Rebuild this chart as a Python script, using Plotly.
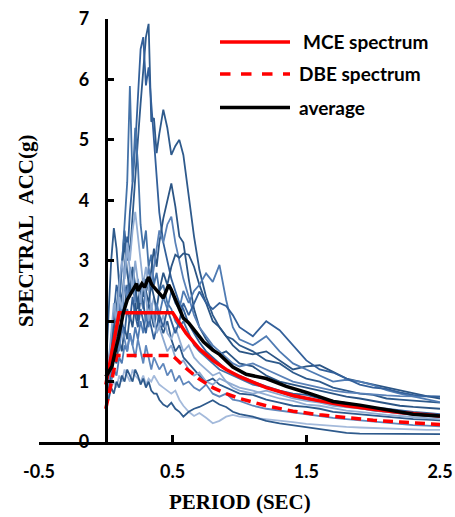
import plotly.graph_objects as go

# Period grid shared by the ground-motion records (sec)
periods = [0, 0.02, 0.04, 0.06, 0.08, 0.10, 0.12, 0.14, 0.16, 0.18, 0.20, 0.22, 0.24, 0.26, 0.28,
           0.30, 0.32, 0.34, 0.36, 0.38, 0.40, 0.43, 0.46, 0.49, 0.52, 0.55, 0.58, 0.62, 0.66, 0.70,
           0.75, 0.80, 0.85, 0.90, 0.95, 1.0, 1.1, 1.2, 1.3, 1.4, 1.5, 1.6, 1.7, 1.8, 1.9, 2.0,
           2.1, 2.2, 2.3, 2.4, 2.5]

rec01 = [0.9, 1.1, 1.5, 1.9, 2.2, 2.6, 2.3, 2.9, 3.4, 3.1, 3.8, 4.4, 5.0, 5.6, 6.2,
         6.7, 6.92, 5.3, 5.36, 4.78, 5.1, 5.5, 5.2, 4.75, 4.9, 5.0, 4.75, 4.1, 3.4, 2.85,
         2.4, 2.1, 1.9, 1.75, 1.7, 1.6, 1.5, 1.35, 1.3, 1.15, 1.05, 1.0, 0.9, 0.85, 0.8, 0.78,
         0.72, 0.7, 0.68, 0.66, 0.65]
rec02 = [1.0, 1.3, 1.7, 2.1, 2.6, 2.4, 3.0, 3.5, 3.0, 3.8, 4.3, 4.9, 5.7, 6.5, 6.7,
         5.9, 6.2, 5.6, 5.0, 4.3, 3.8, 3.3, 3.0, 2.7, 2.5, 2.3, 2.2, 1.95, 1.8, 1.65,
         1.5, 1.4, 1.3, 1.2, 1.15, 1.1, 1.0, 0.92, 0.85, 0.8, 0.78, 0.72, 0.68, 0.64, 0.6, 0.57,
         0.55, 0.52, 0.5, 0.48, 0.46]
rec03 = [0.8, 1.0, 1.3, 1.8, 1.5, 2.2, 2.8, 3.6, 4.3, 5.89, 4.3, 5.2, 4.6, 3.6, 3.2,
         3.5, 2.9, 3.1, 2.6, 2.8, 2.5, 2.6, 2.3, 2.2, 2.0, 1.9, 2.0, 1.8, 1.6, 1.5,
         1.4, 1.3, 1.2, 1.15, 1.1, 1.05, 0.95, 0.9, 0.82, 0.75, 0.7, 0.66, 0.62, 0.6, 0.56, 0.52,
         0.5, 0.47, 0.45, 0.43, 0.41]
rec04 = [1.1, 1.3, 1.6, 1.9, 2.1, 2.0, 2.4, 2.2, 2.6, 2.4, 2.8, 2.5, 2.3, 2.6, 2.4,
         2.7, 2.5, 2.9, 3.2, 2.9, 3.3, 3.7, 4.0, 4.28, 3.9, 3.4, 3.3, 2.7, 2.2, 1.9,
         1.7, 1.55, 1.45, 1.5, 1.4, 1.3, 1.25, 1.1, 1.0, 0.95, 0.9, 0.85, 0.8, 0.75, 0.72, 0.68,
         0.64, 0.6, 0.58, 0.56, 0.55]
rec05 = [0.9, 1.1, 1.4, 1.6, 1.9, 2.3, 2.1, 2.6, 2.4, 2.9, 2.6, 2.3, 2.7, 2.4, 2.2,
         2.6, 2.9, 2.6, 2.9, 3.2, 3.5, 3.3, 3.6, 3.73, 3.3, 3.0, 2.7, 2.4, 2.1, 1.9,
         1.75, 1.6, 1.5, 1.4, 1.3, 1.25, 1.3, 1.2, 1.1, 1.0, 0.95, 0.9, 0.85, 0.82, 0.8, 0.78,
         0.77, 0.76, 0.76, 0.75, 0.75]
rec06 = [1.2, 2.0, 3.0, 3.54, 3.2, 2.6, 2.9, 3.3, 2.8, 2.5, 2.9, 2.6, 2.2, 2.5, 2.3,
         2.0, 2.3, 2.1, 1.9, 2.2, 2.0, 1.8, 2.0, 1.7, 1.5, 1.6, 1.4, 1.3, 1.2, 1.1,
         1.0, 1.05, 0.95, 0.9, 0.85, 0.8, 0.78, 0.7, 0.65, 0.6, 0.58, 0.55, 0.5, 0.48, 0.45, 0.43,
         0.42, 0.4, 0.38, 0.37, 0.36]
rec07 = [0.8, 1.0, 1.2, 1.5, 1.9, 2.4, 2.2, 2.8, 3.3, 3.0, 3.5, 3.81, 3.4, 3.0, 2.6,
         2.9, 2.5, 2.2, 2.4, 2.1, 1.9, 2.1, 1.8, 1.7, 1.9, 1.7, 1.5, 1.6, 1.4, 1.3,
         1.2, 1.1, 1.15, 1.0, 0.95, 0.9, 0.85, 0.78, 0.72, 0.68, 0.62, 0.6, 0.56, 0.52, 0.5, 0.47,
         0.45, 0.43, 0.41, 0.4, 0.38]
rec08 = [0.7, 0.9, 1.1, 1.4, 1.3, 1.7, 1.5, 1.9, 1.7, 2.1, 1.9, 2.3, 2.0, 2.4, 2.7,
         2.5, 2.3, 2.6, 2.4, 2.2, 2.5, 2.8, 2.6, 2.9, 3.1, 3.05, 3.12, 3.1, 2.9, 2.6,
         2.3, 2.0, 1.9, 1.75, 1.6, 1.5, 1.45, 1.5, 1.35, 1.2, 1.25, 1.27, 1.16, 1.05, 1.0, 0.95,
         0.9, 0.85, 0.8, 0.76, 0.72]
rec09 = [0.6, 0.8, 1.0, 1.2, 1.1, 1.4, 1.3, 1.6, 1.5, 1.8, 1.6, 1.9, 1.7, 2.0, 1.8,
         2.1, 1.9, 2.2, 2.0, 2.3, 2.1, 2.4, 2.2, 2.5, 2.3, 2.2, 2.5, 2.3, 2.5, 2.6,
         2.79, 2.65, 2.93, 2.35, 1.9, 1.7, 1.6, 1.75, 1.5, 1.3, 1.2, 1.1, 1.0, 1.03, 1.0, 0.94,
         0.86, 0.8, 0.75, 0.7, 0.66]
rec10 = [0.9, 1.1, 1.3, 1.6, 1.8, 1.6, 2.0, 1.8, 2.2, 2.0, 2.4, 2.1, 1.9, 2.2, 2.0,
         1.8, 2.1, 1.9, 1.7, 1.9, 2.1, 1.9, 2.2, 2.0, 1.8, 2.0, 2.3, 2.1, 2.3, 2.49,
         2.3, 2.2, 2.3, 2.25, 2.1, 1.9, 1.75, 2.0, 1.85, 1.6, 1.35, 1.2, 1.15, 1.05, 0.95, 0.9,
         0.88, 0.82, 0.78, 0.76, 0.75]
rec11 = [0.7, 0.8, 0.9, 1.0, 0.9, 1.1, 1.0, 1.2, 1.1, 1.0, 1.2, 1.1, 1.05, 1.0, 1.1,
         0.95, 1.05, 1.0, 1.1, 1.03, 0.95, 0.9, 0.85, 0.8, 0.85, 0.7, 0.6, 0.5, 0.43, 0.48,
         0.4, 0.31, 0.35, 0.42, 0.45, 0.42, 0.4, 0.38, 0.35, 0.33, 0.3, 0.28, 0.27, 0.25, 0.24, 0.23,
         0.22, 0.21, 0.2, 0.2, 0.2]
rec12 = [0.6, 0.7, 0.9, 0.8, 1.0, 0.9, 1.1, 1.0, 1.2, 1.1, 1.0, 1.2, 1.1, 0.95, 1.05,
         0.9, 1.0, 0.85, 0.8, 0.8, 0.7, 0.62, 0.58, 0.65, 0.55, 0.5, 0.42, 0.5, 0.55, 0.58,
         0.64, 0.69, 0.62, 0.58, 0.5, 0.46, 0.42, 0.35, 0.31, 0.28, 0.25, 0.22, 0.18, 0.15, 0.14, 0.14,
         0.13, 0.14, 0.13, 0.13, 0.13]
rec13 = [0.8, 1.0, 1.2, 1.5, 1.7, 1.5, 1.9, 1.7, 1.5, 1.8, 1.6, 1.4, 1.7, 1.5, 1.3,
         1.6, 1.4, 1.2, 1.4, 1.3, 1.2, 1.3, 1.1, 1.2, 1.0, 1.1, 0.95, 1.0, 0.9, 0.85,
         0.95, 0.8, 0.75, 0.8, 0.7, 0.68, 0.6, 0.55, 0.52, 0.48, 0.45, 0.42, 0.4, 0.38, 0.36, 0.33,
         0.31, 0.3, 0.28, 0.27, 0.26]
rec14 = [1.0, 1.3, 1.8, 2.3, 2.0, 2.6, 3.0, 2.7, 3.2, 2.8, 2.5, 3.0, 2.6, 2.3, 2.7,
         2.4, 2.0, 2.3, 2.0, 1.8, 1.9, 1.7, 1.5, 1.6, 1.4, 1.3, 1.35, 1.2, 1.1, 1.15,
         1.0, 0.95, 1.05, 1.0, 0.9, 0.85, 0.8, 0.85, 0.78, 0.72, 0.68, 0.65, 0.6, 0.58, 0.55, 0.53,
         0.5, 0.48, 0.46, 0.45, 0.44]

records = [rec01, rec02, rec03, rec04, rec05, rec06, rec07, rec08, rec09, rec10, rec11, rec12, rec13, rec14]
record_colors = ["#2E5A8C", "#33609A", "#4472A8", "#2B5585", "#5A82B8", "#2E5A8C", "#93AED4",
                 "#2B5585", "#4F7BB3", "#33609A", "#A4BADB", "#2E5A8C", "#5F87BC", "#8BA8D0"]

# MCE / DBE design spectra
mce_T = [0, 0.1, 0.5, 0.6, 0.7, 0.8, 0.9, 1.0, 1.2, 1.4, 1.6, 1.8, 2.0, 2.2, 2.5]
mce_sa = [0.95, 2.14, 2.14, 1.80, 1.54, 1.35, 1.20, 1.08, 0.90, 0.77, 0.68, 0.60, 0.54, 0.49, 0.43]
dbe_T = [0, 0.083, 0.5, 0.6, 0.7, 0.8, 0.9, 1.0, 1.2, 1.4, 1.6, 1.8, 2.0, 2.2, 2.5]
dbe_sa = [0.55, 1.43, 1.43, 1.22, 1.04, 0.90, 0.80, 0.72, 0.60, 0.51, 0.45, 0.40, 0.36, 0.33, 0.29]

# Average spectrum
avg_T = [0, 0.02, 0.046, 0.07, 0.096, 0.13, 0.16, 0.18, 0.21, 0.23, 0.24, 0.27, 0.29, 0.32,
         0.345, 0.38, 0.42, 0.43, 0.47, 0.49, 0.53, 0.58, 0.62, 0.68, 0.73, 0.80, 0.85, 0.95,
         1.05, 1.2, 1.35, 1.5, 1.6, 1.7, 1.9, 2.1, 2.3, 2.5]
avg_sa = [1.08, 1.15, 1.25, 1.5, 1.74, 2.13, 2.35, 2.43, 2.54, 2.62, 2.5, 2.62, 2.56, 2.73,
          2.6, 2.52, 2.41, 2.38, 2.6, 2.52, 2.3, 2.05, 1.97, 1.8, 1.66, 1.52, 1.45, 1.24,
          1.12, 1.05, 0.92, 0.82, 0.74, 0.67, 0.61, 0.53, 0.46, 0.43]

x_ticks = [-0.5, 0.5, 1.5, 2.5]
x_tick_labels = ["-0.5", "0.5", "1.5", "2.5"]
y_ticks = [0, 1, 2, 3, 4, 5, 6, 7]

legend_names = [" MCE spectrum", "DBE spectrum", "average"]
y_title = "SPECTRAL\u00a0\u00a0ACC(g)"
x_title = "PERIOD (SEC)"

fig = go.Figure()
for vals, col in zip(records, record_colors):
    fig.add_trace(go.Scatter(x=periods, y=vals, mode="lines",
                             line=dict(color=col, width=1.8), showlegend=False, hoverinfo="skip"))

fig.add_trace(go.Scatter(x=dbe_T, y=dbe_sa, mode="lines", name=legend_names[1],
                         line=dict(color="#FF0000", width=3.5, dash="10px,6px"), showlegend=False))
fig.add_trace(go.Scatter(x=mce_T, y=mce_sa, mode="lines", name=legend_names[0],
                         line=dict(color="#FF0000", width=3.5), showlegend=False))
fig.add_trace(go.Scatter(x=avg_T, y=avg_sa, mode="lines", name=legend_names[2],
                         line=dict(color="#000000", width=3.5), showlegend=False))

L, R, T, B = 39, 15, 19, 75
W, H = 455, 517
pw, ph = W - L - R, H - T - B

def px(x):
    return (x - L) / pw

def py(y):
    return (H - B - y) / ph

tick_font = dict(family="Lato", size=18, color="black", weight="bold")

fig.update_layout(
    width=W, height=H,
    margin=dict(l=L, r=R, t=T, b=B, autoexpand=False),
    plot_bgcolor="white", paper_bgcolor="white",
    xaxis=dict(range=[-0.5, 2.5], tickvals=x_ticks, ticktext=x_tick_labels,
               showline=True, linecolor="black", linewidth=2.5,
               ticks="inside", ticklen=7, tickwidth=2.5, tickcolor="black",
               showgrid=False, zeroline=False, tickfont=tick_font, automargin=False,
               ticklabelstandoff=12, domain=[0, 1]),
    yaxis=dict(range=[0, 7], tickvals=y_ticks,
               anchor="free", position=(105.5 - L) / pw,
               showline=True, linecolor="black", linewidth=2.5,
               ticks="inside", ticklen=7, tickwidth=2.5, tickcolor="black",
               showgrid=False, zeroline=False, tickfont=tick_font, automargin=False,
               ticklabelstandoff=12),
    showlegend=False,
)

# Legend (drawn manually to match the long line samples)
leg_rows = [42, 74, 107.5]
leg_styles = [dict(color="#FF0000", width=3.5), dict(color="#FF0000", width=3.5, dash="dash"),
              dict(color="#000000", width=3.5)]
leg_text_x = [301, 297, 297]
for yy, st, name, tx in zip(leg_rows, leg_styles, legend_names, leg_text_x):
    fig.add_shape(type="line", xref="paper", yref="paper", x0=px(220), x1=px(290),
                  y0=py(yy), y1=py(yy), line=st)
    fig.add_annotation(xref="paper", yref="paper", x=px(tx), y=py(yy), text=name.strip(),
                       showarrow=False, xanchor="left", yanchor="middle",
                       font=dict(family="Lato", size=19, color="black", weight="bold"))

fig.add_annotation(xref="paper", yref="paper", x=px(26), y=py(231), text=y_title,
                   textangle=-90, showarrow=False, xanchor="center", yanchor="middle",
                   font=dict(family="Liberation Serif", size=21, color="black", weight="bold"))
fig.add_annotation(xref="paper", yref="paper", x=px(240), y=py(502), text=x_title,
                   showarrow=False, xanchor="center", yanchor="middle",
                   font=dict(family="Liberation Serif", size=21, color="black", weight="bold"))

fig.write_html("out.html", config={"displayModeBar": False},
               post_script="document.body.style.margin='0px';document.body.style.overflow='hidden';")
